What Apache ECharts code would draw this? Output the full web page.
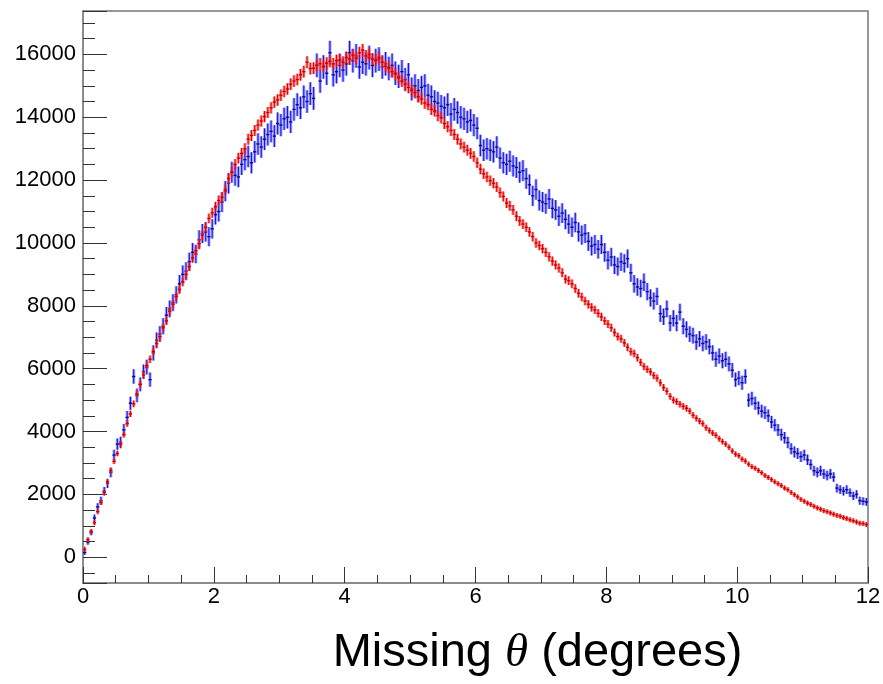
<!DOCTYPE html>
<html lang="en">
<head>
    <meta charset="UTF-8">
    <title>Missing theta</title>
    <script src="https://cdn.jsdelivr.net/npm/echarts@6/dist/echarts.min.js"></script>
    <style>
        html, body { margin: 0; padding: 0; background: #fff; }
        #container { width: 883px; height: 684px; }
    </style>
</head>
<body>
<div id="container"></div>
<script>
    // histogram binning: 240 bins of 0.05 deg from 0 to 12
    var xMin = 0, xMax = 12, binWidth = 0.05;

    // red histogram (bin contents)
    var redCounts = [
        250, 560, 820, 1100, 1450, 1740, 2060, 2400, 2760, 3050,
        3300, 3600, 3900, 4250, 4560, 4880, 5200, 5500, 5800, 6100,
        6300, 6550, 6800, 7020, 7300, 7520, 7830, 8050, 8290, 8520,
        8760, 9000, 9250, 9520, 9750, 9980, 10250, 10500, 10780, 10960,
        11150, 11350, 11450, 11700, 12050, 12250, 12500, 12700, 12850, 13000,
        13300, 13420, 13580, 13750, 13880, 14020, 14150, 14300, 14480, 14550,
        14700, 14820, 14900, 15050, 15150, 15200, 15350, 15450, 15750, 15550,
        15560, 15650, 15700, 15620, 15720, 15780, 15700, 15800, 15820, 15750,
        15900, 15850, 15980, 15880, 16050, 16140, 15950, 16000, 15850, 15820,
        15900, 15750, 15620, 15580, 15450, 15380, 15250, 15150, 15050, 14950,
        14850, 14780, 14650, 14580, 14450, 14400, 14250, 14200, 14050, 13980,
        13800, 13700, 13580, 13450, 13300, 13150, 13050, 12950, 12850, 12750,
        12550, 12350, 12200, 12100, 11980, 11900, 11780, 11600, 11480, 11270,
        11180, 11050, 10850, 10700, 10600, 10500, 10350, 10200, 10000, 9920,
        9820, 9700, 9560, 9420, 9300, 9200, 9050, 8850, 8800, 8700,
        8550, 8400, 8280, 8150, 8050, 7950, 7870, 7760, 7650, 7520,
        7420, 7300, 7150, 7020, 6950, 6820, 6680, 6540, 6480, 6350,
        6200, 6070, 5980, 5900, 5780, 5700, 5550, 5400, 5280, 5120,
        5000, 4950, 4870, 4800, 4740, 4650, 4520, 4420, 4330, 4250,
        4120, 4030, 3950, 3880, 3770, 3680, 3600, 3500, 3380, 3280,
        3230, 3120, 3060, 2960, 2880, 2830, 2760, 2690, 2600, 2540,
        2470, 2400, 2340, 2280, 2200, 2150, 2060, 1990, 1920, 1840,
        1780, 1720, 1680, 1620, 1570, 1530, 1480, 1450, 1410, 1370,
        1330, 1300, 1260, 1230, 1190, 1160, 1120, 1080, 1070, 1040
    ];

    // blue histogram
    var blueCounts = [
        150, 480, 780, 1250, 1600, 1800, 2100, 2350, 2700, 3250,
        3600, 3650, 4050, 4450, 4900, 5750, 5150, 5500, 5900, 6050,
        5650, 6500, 6900, 7100, 7350, 7700, 7900, 8100, 8350, 8700,
        9000, 9100, 9400, 9700, 9650, 10100, 10300, 10350, 10200, 10450,
        10900, 11000, 11300, 11650, 11900, 12250, 12150, 12100, 12500, 12650,
        12750, 12550, 12900, 13150, 13050, 13300, 13450, 13550, 13400, 13800,
        13750, 13950, 14000, 13850, 14250, 14400, 14300, 14650, 14500, 14750,
        14600, 15650, 15150, 15600, 15400, 16050, 15350, 15450, 15650, 15500,
        15700, 16050, 15800, 15950, 15600, 15750, 15700, 15900, 15650, 15800,
        15850, 15600, 15700, 15550, 15650, 15400, 15300, 15450, 15200, 15350,
        14900, 15000, 14850, 14950, 15000, 14700, 14650, 14500, 14450, 14350,
        14300, 14400, 14100, 14250, 14150, 14000, 13950, 13850, 13900, 13750,
        13650, 13100, 12950, 13000, 12950, 12900, 13050, 12700, 12550, 12500,
        12600, 12450, 12400, 12250, 12300, 12050, 11850, 11500, 11700, 11350,
        11300, 11250, 11400, 11100, 11050, 10850, 10950, 10750, 10600, 10500,
        10650, 10350, 10250, 10300, 10050, 9900, 9950, 9800, 9950, 9700,
        9450, 9550, 9300, 9250, 9400, 9350, 9500, 9050, 8700, 8600,
        8550, 8750, 8450, 8250, 8150, 8300, 7750, 7650, 7900, 7450,
        7600, 7450, 7800, 7350, 7250, 7100, 7050, 6850, 6950, 6800,
        6850, 6700, 6500, 6300, 6400, 6250, 6300, 6150, 5950, 5650,
        5700, 5550, 5750, 5000, 5050, 4900, 4750, 4650, 4600, 4500,
        4300, 4200, 4050, 3900, 3800, 3650, 3450, 3350, 3300, 3200,
        3250, 3100, 2950, 2750, 2700, 2750, 2650, 2600, 2650, 2550,
        2200, 2150, 2100, 2150, 2050, 1950, 2000, 1800, 1780, 1760
    ];

    // error bars are the weighted statistical errors, err = k * sqrt(N)
    var redErrScale = 1.5;
    var blueErrScale = 3.0;

    var xTickLabels = ['0', '2', '4', '6', '8', '10', '12'];

    function toBins(counts, k) {
        return counts.map(function (v, i) {
            return [xMin + binWidth * (i + 0.5), v, k * Math.sqrt(v)];
        });
    }

    function makeRender(light, core, mark) {
        return function (params, api) {
            var x = api.value(0), y = api.value(1), e = api.value(2);
            var hi = api.coord([x, y + e]);
            var lo = api.coord([x, y - e]);
            var l = api.coord([x - binWidth / 2, y]);
            var r = api.coord([x + binWidth / 2, y]);
            var cx = (l[0] + r[0]) / 2;
            var y1 = Math.min(hi[1], l[1] - 2.5), y2 = Math.max(lo[1], l[1] + 2.5);
            return {
                type: 'group',
                children: [
                    { type: 'line', shape: { x1: cx, y1: y1, x2: cx, y2: y2 },
                      style: { stroke: light, lineWidth: 3 } },
                    { type: 'line', shape: { x1: cx, y1: y1, x2: cx, y2: y2 },
                      style: { stroke: core, lineWidth: 1.1 } },
                    { type: 'line', shape: { x1: l[0], y1: l[1], x2: r[0], y2: r[1] },
                      style: { stroke: mark, lineWidth: 1.4 } }
                ]
            };
        };
    }

    var myChart = echarts.init(document.getElementById('container'));
    var labelFont = 'Liberation Sans, Arial, sans-serif';

    myChart.setOption({
        animation: false,
        backgroundColor: '#fff',
        grid: {
            left: 83, right: 15, top: 11, bottom: 101,
            show: true, borderColor: '#777', borderWidth: 1.5,
            outerBoundsMode: 'none'
        },
        xAxis: {
            type: 'value',
            min: xMin, max: xMax, interval: 2,
            axisLine: { onZero: false, lineStyle: { color: '#888', width: 1.5 } },
            axisTick: { inside: true, length: 16, lineStyle: { color: '#333' } },
            minorTick: { show: true, splitNumber: 4, length: 8, lineStyle: { color: '#333' } },
            splitLine: { show: false },
            axisLabel: {
                fontSize: 22, color: '#000', fontFamily: labelFont, margin: 3,
                formatter: function (v) { return xTickLabels[Math.round(v / 2)]; }
            },
            name: 'Missing {t|θ} (degrees)',
            nameLocation: 'middle',
            nameGap: 47,
            nameTextStyle: {
                fontSize: 47, color: '#000', fontFamily: labelFont,
                padding: [0, 0, 0, 124],
                rich: {
                    t: { fontSize: 47, fontStyle: 'italic', fontFamily: 'Liberation Serif, serif', color: '#000' }
                }
            }
        },
        yAxis: {
            type: 'value',
            min: -820, max: 17380,
            minInterval: 2000, maxInterval: 2000,
            axisLine: { show: true, onZero: false, lineStyle: { color: '#888', width: 1.5 } },
            axisTick: { inside: true, length: 24, lineStyle: { color: '#333' } },
            minorTick: { show: true, splitNumber: 4, length: 12, lineStyle: { color: '#333' } },
            splitLine: { show: false },
            axisLabel: {
                fontSize: 22, color: '#000', fontFamily: labelFont, margin: 7,
                showMinLabel: false, showMaxLabel: false,
                formatter: function (v) { return String(v); }
            }
        },
        series: [
            {
                type: 'custom',
                name: 'blue',
                clip: true,
                renderItem: makeRender('rgba(90,90,255,0.55)', '#1515ee', '#0a0a80'),
                data: toBins(blueCounts, blueErrScale)
            },
            {
                type: 'custom',
                name: 'red',
                clip: true,
                renderItem: makeRender('rgba(255,70,70,0.6)', '#ee0000', '#c80000'),
                data: toBins(redCounts, redErrScale)
            }
        ]
    });
</script>
</body>
</html>
